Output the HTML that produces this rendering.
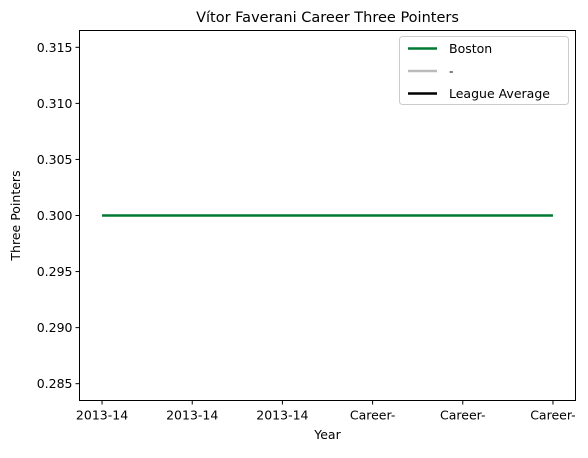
<!DOCTYPE html>
<html><head><meta charset="utf-8"><style>
body{margin:0;background:#fff;}
svg{font-family:"DejaVu Sans","Liberation Sans",sans-serif;}
</style></head><body>
<svg width="588" height="453" xmlns="http://www.w3.org/2000/svg">
<g id="root"></g>
</svg>
<script>
const categories=["2013-14","2013-14","2013-14","Career-","Career-","Career-"];
const bostonValues=[0.3,0.3,0.3,0.3,0.3,0.3];
const yTicks=[0.285,0.290,0.295,0.300,0.305,0.310,0.315];
const legendLabels=["Boston","-","League Average"];
const legendColors=["#007A33","#BBBBBB","#000000"];

const L=79.5,R=575.5,T=30.5,B=400.5;
const xMin=-0.25,xMax=5.25,yMin=0.2835,yMax=0.3165;
const xs=i=>L+(i-xMin)/(xMax-xMin)*(R-L);
const ys=v=>B-(v-yMin)/(yMax-yMin)*(B-T);
const NS="http://www.w3.org/2000/svg";
const root=document.getElementById('root');
function mk(tag,attrs,text){const e=document.createElementNS(NS,tag);for(const k in attrs)e.setAttribute(k,attrs[k]);if(text!==undefined)e.textContent=text;root.appendChild(e);return e;}

let t=mk('text',{x:(L+R)/2,y:22,'text-anchor':'middle','font-size':'14.5'},'Vítor Faverani Career Three Pointers');



yTicks.forEach(v=>{const y=ys(v);
 let l=mk('line',{x1:L-4,x2:L,y1:y,y2:y,stroke:'#000'});
 
 
 let tx=mk('text',{x:L-7,y:y+4.5,'text-anchor':'end','font-size':'12.5'},v.toFixed(3));
 
 
});
categories.forEach((c,i)=>{const x=xs(i);
 let l=mk('line',{x1:x,x2:x,y1:B,y2:B+4,stroke:'#000'});
 
 
 let tx=mk('text',{x:x,y:B+19,'text-anchor':'middle','font-size':'12.5'},c);
 
 
});
let xt=mk('text',{x:(L+R)/2,y:439,'text-anchor':'middle','font-size':'12.5'},'Year');


let yt=mk('text',{x:0,y:0,'text-anchor':'middle','font-size':'12.5',transform:`translate(20,${(T+B)/2}) rotate(-90)`},'Three Pointers');



let pts=bostonValues.map((v,i)=>xs(i)+','+ys(v)).join(' ');
let pl=mk('polyline',{points:pts,fill:'none',stroke:'#007A33','stroke-width':2.5});



let fr=mk('rect',{x:L,y:T,width:R-L,height:B-T,fill:'none',stroke:'#000','stroke-width':1});



let lb=mk('rect',{x:399.5,y:36.5,width:169,height:68,rx:3,fill:'#fff','fill-opacity':0.8,stroke:'#ccc'});


legendLabels.forEach((s,i)=>{const y=48.5+i*22.5;
 let l=mk('line',{x1:408,x2:437,y1:y,y2:y,stroke:legendColors[i],'stroke-width':2.5});
 
 
 let tx=mk('text',{x:449,y:y+4.5,'font-size':'12.5'},s);
 
 
});
</script>
</body></html>
